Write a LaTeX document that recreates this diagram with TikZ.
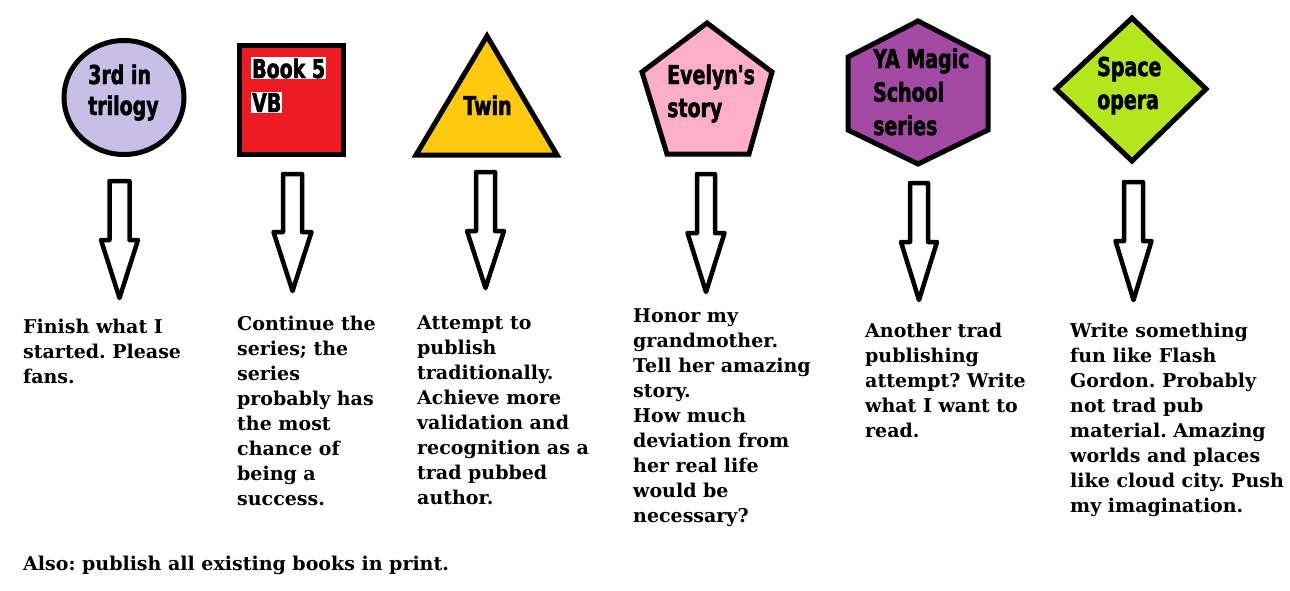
\documentclass[tikz,border=0pt]{standalone}
\usepackage{fontspec}
\setmainfont{DejaVu Serif}
\newfontfamily\impactfont[FakeStretch=0.73, FakeBold=1.8]{DejaVu Sans Bold}
\definecolor{lav}{HTML}{C8BFE7}
\definecolor{pred}{HTML}{ED1C24}
\definecolor{pyel}{HTML}{FFC90E}
\definecolor{ppink}{HTML}{FFAEC9}
\definecolor{ppurp}{HTML}{A349A4}
\definecolor{pgreen}{HTML}{B5E61D}
\tikzset{
  shapeline/.style={draw=black, line width=5pt, line join=miter},
  shapelabel/.style={font=\impactfont\fontsize{26}{33}\selectfont, align=left, anchor=base west, inner sep=0pt},
  bodytext/.style={font=\frenchspacing\bfseries\fontsize{19}{25}\selectfont, align=left, anchor=base west, inner sep=0pt},
  blockarrow/.style={draw=black, line width=4.5pt, line join=round, fill=white},
}
% \barrow{name}{cx}{top}{headY}{tipY}{shaftHalf}{headHalf}
\newcommand\barrow[7]{%
  \draw[blockarrow] (#2-#6,#3) coordinate (#1-top) -- (#2+#6,#3) -- (#2+#6,#4) -- (#2+#7,#4)
     -- (#2,#5) coordinate (#1-tip) -- (#2-#7,#4) -- (#2-#6,#4) -- cycle;}
\begin{document}
\begin{tikzpicture}[x=1pt,y=-1pt]
\path[fill=white] (0,0) rectangle (1290,590);
\useasboundingbox (0,0) rectangle (1290,590);

% shapes (base anchor = baseline of last line)
\draw[shapeline, fill=lav] (124,97.5) ellipse [x radius=60, y radius=57];
\node[shapelabel, font=\impactfont\fontsize{26}{31}\selectfont] (s1) at (88,115) {3rd in\\trilogy};

\draw[shapeline, fill=pred] (239.5,45.5) rectangle (343,154);
\node[shapelabel, fill=white, inner sep=1pt] (s2a) at (251,78) {Book 5};
\node[shapelabel, fill=white, inner sep=1pt] (s2b) at (251,112) {VB};

\draw[shapeline, fill=pyel] (487,36) -- (557,155) -- (416,155) -- cycle;
\node[shapelabel] (s3) at (463,115) {Twin};

\draw[shapeline, fill=ppink] (707,23) -- (772,72) -- (749,154) -- (667,154) -- (642,72) -- cycle;
\node[shapelabel] (s4) at (667,117) {Evelyn's\\story};

\draw[shapeline, fill=ppurp] (918,21) -- (988,57) -- (988,130) -- (918,164) -- (848,130) -- (848,57) -- cycle;
\node[shapelabel, font=\impactfont\fontsize{26}{33.5}\selectfont] (s5) at (873,135) {YA Magic\\School\\series};

\draw[shapeline, fill=pgreen] (1132,18) -- (1206,89) -- (1132,161) -- (1056,89) -- cycle;
\node[shapelabel] (s6) at (1097,109) {Space\\opera};

% arrows
\barrow{a1}{119.5}{181}{240}{298}{10}{18.5}
\barrow{a2}{292.5}{174}{232}{291}{9.5}{19}
\barrow{a3}{485.5}{172}{231}{288}{9.5}{18.5}
\barrow{a4}{706}{174}{233}{292}{9}{18.5}
\barrow{a5}{919}{183}{242}{300}{9}{18}
\barrow{a6}{1133.5}{182}{241}{300}{9.5}{18}

% texts (base anchor = baseline of last line)
\node[bodytext] (t1) at (23,383) {Finish what I\\started. Please\\fans.};
\node[bodytext] (t2) at (237,505) {Continue the\\series; the\\series\\probably has\\the most\\chance of\\being a\\success.};
\node[bodytext] (t3) at (417,504) {Attempt to\\publish\\traditionally.\\Achieve more\\validation and\\recognition as a\\trad pubbed\\author.};
\node[bodytext] (t4) at (633,522) {Honor my\\grandmother.\\Tell her amazing\\story.\\How much\\deviation from\\her real life\\would be\\necessary?};
\node[bodytext] (t5) at (865,437) {Another trad\\publishing\\attempt? Write\\what I want to\\read.};
\node[bodytext] (t6) at (1070,512) {Write something\\fun like Flash\\Gordon. Probably\\not trad pub\\material. Amazing\\worlds and places\\like cloud city. Push\\my imagination.};
\node[bodytext] (t7) at (23,570) {Also: publish all existing books in print.};
\end{tikzpicture}
\end{document}
